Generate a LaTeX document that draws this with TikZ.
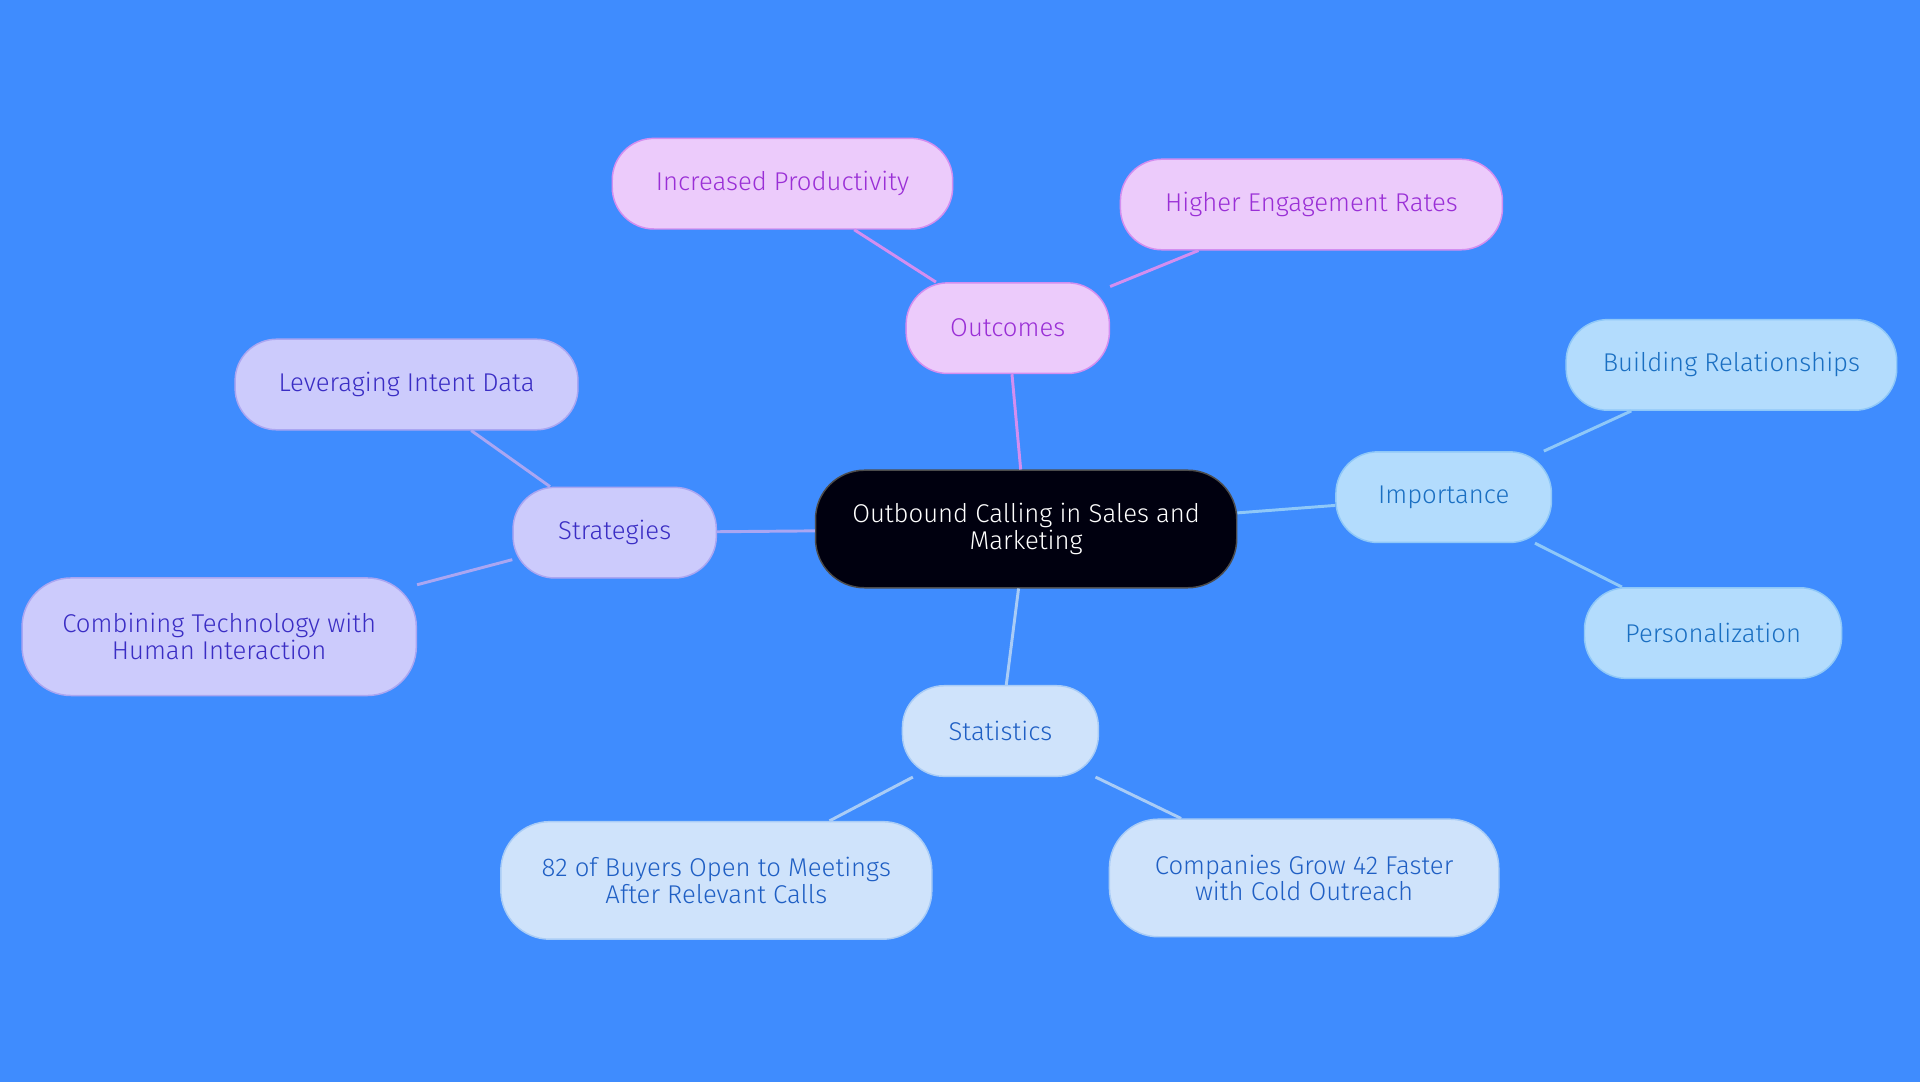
\documentclass[tikz,border=0pt]{standalone}
\usepackage{fontspec}
\setmainfont{Fira Sans}[UprightFont=* Light]
\begin{document}
\begin{tikzpicture}[x=0.5pt,y=-0.5pt,
 box/.style={draw,line width=0.6pt,rounded corners=17pt,align=center,inner sep=0pt,font=\fontsize{10.5}{11}\selectfont},
 o/.style={box,fill=oc,draw=ob,text=ot},
 i/.style={box,fill=ic,draw=ib,text=it},
 s/.style={box,fill=sc,draw=sb,text=st},
 g/.style={box,fill=gc,draw=gb,text=gt},
 e/.style={line width=1.2pt}]
\definecolor{bg}{HTML}{3F8CFE}
\definecolor{oc}{HTML}{ECCBFB}\definecolor{ob}{HTML}{D38EF0}\definecolor{ot}{HTML}{9A2FD6}
\definecolor{ic}{HTML}{B3DCFD}\definecolor{ib}{HTML}{8FC8F8}\definecolor{it}{HTML}{1A6FC2}
\definecolor{sc}{HTML}{CFE3FB}\definecolor{sb}{HTML}{A9CCF6}\definecolor{st}{HTML}{1F5FC4}
\definecolor{gc}{HTML}{CCCBFC}\definecolor{gb}{HTML}{AAA6F2}\definecolor{gt}{HTML}{3A2DC4}
\fill[bg] (0,0) rectangle (1568,884);
\useasboundingbox (0,0) rectangle (1568,884);
\node[box,fill=black!90!blue!60!black,draw=black!70,text=white,minimum width=172pt,minimum height=48pt,rounded corners=20pt] (c) at (838,432) {Outbound Calling in Sales and\\Marketing};
\node[o,minimum width=83pt,minimum height=37pt] (out) at (823,268) {Outcomes};
\node[o,minimum width=139pt,minimum height=37pt] (ip) at (639,150) {Increased Productivity};
\node[o,minimum width=156pt,minimum height=37pt] (he) at (1071,167) {Higher Engagement Rates};
\node[i,minimum width=88pt,minimum height=37pt] (imp) at (1179,406) {Importance};
\node[i,minimum width=135pt,minimum height=37pt] (br) at (1414,298) {Building Relationships};
\node[i,minimum width=105pt,minimum height=37pt] (pe) at (1399,517) {Personalization};
\node[s,minimum width=80pt,minimum height=37pt] (sta) at (817,597) {Statistics};
\node[s,minimum width=176pt,minimum height=48pt,rounded corners=20pt] (b82) at (585,719) {82 of Buyers Open to Meetings\\After Relevant Calls};
\node[s,minimum width=159pt,minimum height=48pt,rounded corners=20pt] (cg) at (1065,717) {Companies Grow 42 Faster\\with Cold Outreach};
\node[g,minimum width=83pt,minimum height=37pt] (str) at (502,435) {Strategies};
\node[g,minimum width=140pt,minimum height=37pt] (lid) at (332,314) {Leveraging Intent Data};
\node[g,minimum width=161pt,minimum height=48pt,rounded corners=20pt] (ct) at (179,520) {Combining Technology with\\Human Interaction};
\begin{scope}[on background layer/.style={}]
\end{scope}
\draw[e,ob] (c) -- (out); \draw[e,ob] (out) -- (ip); \draw[e,ob] (out) -- (he);
\draw[e,ib] (c) -- (imp); \draw[e,ib] (imp) -- (br); \draw[e,ib] (imp) -- (pe);
\draw[e,sb] (c) -- (sta); \draw[e,sb] (sta) -- (b82); \draw[e,sb] (sta) -- (cg);
\draw[e,gb] (c) -- (str); \draw[e,gb] (str) -- (lid); \draw[e,gb] (str) -- (ct);
\end{tikzpicture}
\end{document}
